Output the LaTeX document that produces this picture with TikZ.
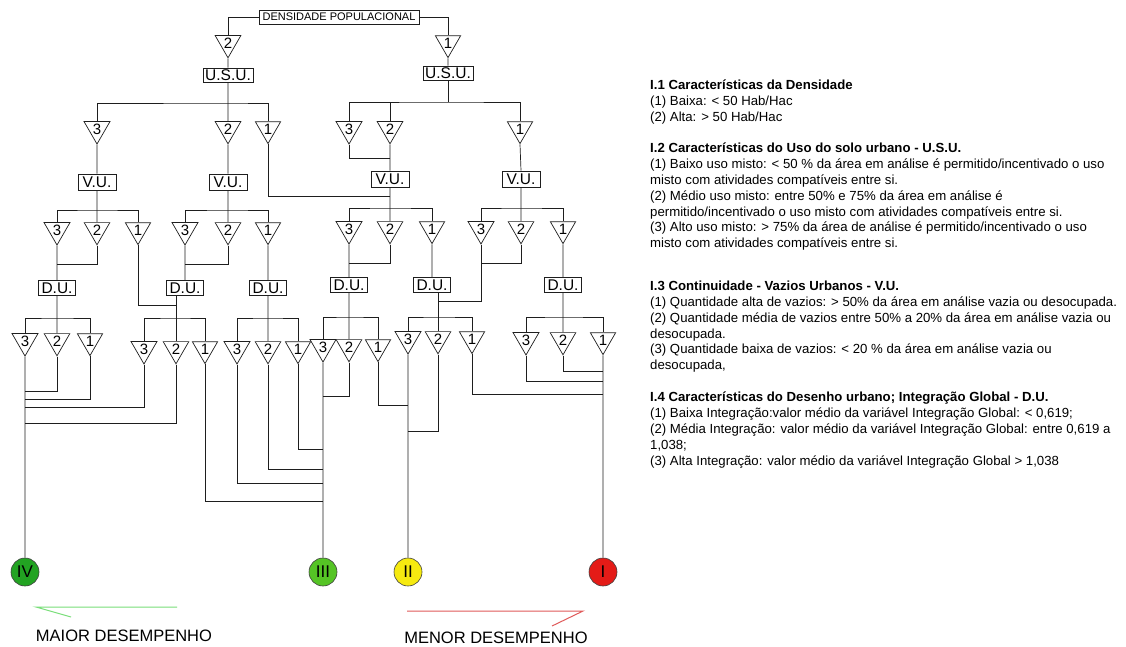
\documentclass[tikz,border=0pt]{standalone}
\usepackage{fontspec}
\setmainfont{Liberation Sans}
\usetikzlibrary{positioning,shapes.geometric}
\definecolor{cInk}{HTML}{1E1E1E}
\definecolor{cHigh}{HTML}{22A322}
\definecolor{cMid}{HTML}{55C425}
\definecolor{cYellow}{HTML}{F6EA10}
\definecolor{cRed}{HTML}{E41B17}
\definecolor{cGreenLine}{HTML}{79DE79}
\definecolor{cRedLine}{HTML}{E05A5A}

\begin{document}
\begin{tikzpicture}[x=1pt,y=-1pt,
    wire/.style={draw=cInk,line width=0.7pt},
    tri/.style={draw=cInk,line width=0.7pt,regular polygon,regular polygon sides=3,
                shape border rotate=180,minimum size=27.7pt,inner sep=0pt,
                font=\fontsize{15}{15}\selectfont},
    crit/.style={draw=cInk,line width=0.7pt,inner sep=0pt,minimum height=15pt,
                 font=\fontsize{15.5}{16}\selectfont},
    res/.style={circle,draw=black!75,line width=0.6pt,minimum size=28pt,inner sep=0pt,
                font=\fontsize{17}{17}\selectfont},
    note/.style={anchor=north west,align=left,inner sep=0pt,
                 font=\fontsize{13.2}{15.8}\selectfont}]
  \useasboundingbox[fill=white] (0,0) rectangle (1126,646);

  % criteria boxes
  \node[crit,minimum width=160pt,minimum height=14pt,font=\fontsize{11}{11}\selectfont]
    (dp) at (339,17) {DENSIDADE POPULACIONAL};
  \node[crit,minimum width=50pt,minimum height=14pt] (usuA) at (228,75) {U.S.U.};
  \node[crit,minimum width=50pt,minimum height=14pt] (usuB) at (448,73) {U.S.U.};
  \foreach \nm/\x/\y in {vuA/97/182, vuB/228/182, vuC/390/179, vuD/521/179}
    \node[crit,minimum width=38pt,minimum height=16pt] (\nm) at (\x,\y) {V.U.};
  \foreach \nm/\x/\y in {duA/57/288, duB/185/288, duC/268/288,
                         duD/349/285, duE/432/285, duF/563/285}
    \node[crit,minimum width=37pt] (\nm) at (\x,\y) {D.U.};

  % classes
  \node[tri] (d2) at (228,43) {2};
  \node[tri] (d1) at (448,43) {1};
  \foreach \nm/\x/\y/\t in {uA3/97/129/3, uA2/228/129/2, uA1/268/129/1,
                            uB3/349/129/3, uB2/390/129/2, uB1/520/129/1,
                            vA3/57/230/3, vA2/97/230/2, vA1/138/230/1,
                            vB3/185/230/3, vB2/228/230/2, vB1/268/230/1,
                            vC3/349/229/3, vC2/390/229/2, vC1/432/229/1,
                            vD3/481/229/3, vD2/521/229/2, vD1/563/229/1,
                            gA3/25/341/3, gA2/57/341/2, gA1/90/341/1,
                            gB3/144/349/3, gB2/176/349/2, gB1/205/349/1,
                            gC3/237/349/3, gC2/268/349/2, gC1/298/349/1,
                            gD3/323/347/3, gD2/349/347/2, gD1/378/347/1,
                            gE3/408/339/3, gE2/438/339/2, gE1/472/339/1,
                            gF3/526/340/3, gF2/563/340/2, gF1/603/340/1}
    \node[tri] (\nm) at (\x,\y) {\t};

  % performance levels
  \node[res,fill=cHigh] (rIV) at (25,572) {IV};
  \node[res,fill=cMid] (rIII) at (323,572) {III};
  \node[res,fill=cYellow] (rII) at (408,572) {II};
  \node[res,fill=cRed] (rI) at (603,572) {I};

  % junctions
  \foreach \c/\x/\y in {busUA/228/103, busUB/448/102, joinUB/390/158, feedVC/390/196,
                        busVA/97/210, busVB/228/210, busVC/390/208, busVD/521/208,
                        joinVA/57/264, joinVB/185/264, joinVC/349/263, joinVD/481/263,
                        feedDB/176/305, feedDE/438/301,
                        busDA/57/318, busDB/176/318, busDC/268/318,
                        busDD/349/317, busDE/438/317, busDF/563/317,
                        oA2/25/391, oA1/25/399, oB3/25/407, oB2/25/423,
                        oB1/323/501, oC3/323/483, oC2/323/469, oC1/323/449, oD2/323/396,
                        oD1/408/405, oE2/408/431,
                        oE1/603/394, oF3/603/381, oF2/603/371}
    \coordinate (\c) at (\x,\y);

  % density -> land use
  \draw[wire] (dp.west) -| (d2.north);
  \draw[wire] (dp.east) -| (d1.north);
  \draw[wire] (d2.south) -- (usuA.north);
  \draw[wire] (d1.south) -- (usuB.north);
  \draw[wire] (usuA.south) -- (uA2.north);
  \draw[wire] (uA3.north) |- (busUA) -| (uA1.north);
  \draw[wire] (usuB.south) -- (busUB);
  \draw[wire] (uB3.north) |- (busUB) -| (uB1.north);
  \draw[wire] (uB2.north) -- (uB2.north |- busUB);

  % land use -> voids
  \draw[wire] (uA3.south) -- (vuA.north);
  \draw[wire] (uA2.south) -- (vuB.north);
  \draw[wire] (uB2.south) -- (vuC.north);
  \draw[wire] (uB3.south) |- (joinUB);
  \draw[wire] (uB1.south) -- (vuD.north);
  \draw[wire] (uA1.south) |- (feedVC);
  \draw[wire] (vuA.south) -- (vA2.north);
  \draw[wire] (vA3.north) |- (busVA) -| (vA1.north);
  \draw[wire] (vuB.south) -- (vB2.north);
  \draw[wire] (vB3.north) |- (busVB) -| (vB1.north);
  \draw[wire] (vuC.south) -- (vC2.north);
  \draw[wire] (vC3.north) |- (busVC) -| (vC1.north);
  \draw[wire] (vuD.south) -- (vD2.north);
  \draw[wire] (vD3.north) |- (busVD) -| (vD1.north);

  % voids -> urban design
  \draw[wire] (vA3.south) -- (duA.north);
  \draw[wire] (vA2.south) |- (joinVA);
  \draw[wire] (vB3.south) -- (duB.north);
  \draw[wire] (vB2.south) |- (joinVB);
  \draw[wire] (vB1.south) -- (duC.north);
  \draw[wire] (vA1.south) |- (feedDB);
  \draw[wire] (vC3.south) -- (duD.north);
  \draw[wire] (vC2.south) |- (joinVC);
  \draw[wire] (vC1.south) -- (duE.north);
  \draw[wire] (vD3.south) |- (feedDE);
  \draw[wire] (vD2.south) |- (joinVD);
  \draw[wire] (vD1.south) -- (duF.north);
  \draw[wire] (duA.south) -- (gA2.north);
  \draw[wire] (gA3.north) |- (busDA) -| (gA1.north);
  \draw[wire] (duB.south -| gB2.north) -- (gB2.north);
  \draw[wire] (gB3.north) |- (busDB) -| (gB1.north);
  \draw[wire] (duC.south) -- (gC2.north);
  \draw[wire] (gC3.north) |- (busDC) -| (gC1.north);
  \draw[wire] (duD.south) -- (gD2.north);
  \draw[wire] (gD3.north) |- (busDD) -| (gD1.north);
  \draw[wire] (duE.south -| gE2.north) -- (gE2.north);
  \draw[wire] (gE3.north) |- (busDE) -| (gE1.north);
  \draw[wire] (duF.south) -- (gF2.north);
  \draw[wire] (gF3.north) |- (busDF) -| (gF1.north);

  % classes -> performance
  \draw[wire] (gA3.south) -- (rIV.north);
  \draw[wire] (gD3.south) -- (rIII.north);
  \draw[wire] (gE3.south) -- (rII.north);
  \draw[wire] (gF1.south) -- (rI.north);
  \foreach \g/\o in {gA2/oA2, gA1/oA1, gB3/oB3, gB2/oB2,
                     gB1/oB1, gC3/oC3, gC2/oC2, gC1/oC1, gD2/oD2,
                     gD1/oD1, gE2/oE2,
                     gE1/oE1, gF3/oF3, gF2/oF2}
    \draw[wire] (\g.south) |- (\o);

  % legend arrows
  \coordinate (gTail) at (177,607);
  \coordinate (gTip) at (36,607);
  \coordinate (gBarb) at (71,617);
  \coordinate (rTail) at (407,611);
  \coordinate (rTip) at (583,611);
  \coordinate (rBarb) at (552,626);
  \draw[cGreenLine,line width=1pt] (gTail) -- (gTip) -- (gBarb);
  \draw[cRedLine,line width=1pt] (rTail) -- (rTip) -- (rBarb);
  \node[font=\fontsize{16.5}{17}\selectfont] (maior) at (124,636) {MAIOR DESEMPENHO};
  \node[font=\fontsize{16.5}{17}\selectfont] (menor) at (496,638) {MENOR DESEMPENHO};

  % criteria notes
  \node[note] (noteDens) at (650,80)
    {\textbf{I.1 Características da Densidade}\\
     (1) Baixa: < 50 Hab/Hac\\
     (2) Alta: > 50 Hab/Hac};
  \node[note] (noteUso) at (650,143)
    {\textbf{I.2 Características do Uso do solo urbano - U.S.U.}\\
     (1) Baixo uso misto: < 50 \% da área em análise é permitido/incentivado o uso\\
     misto com atividades compatíveis entre si.\\
     (2) Médio uso misto: entre 50\% e 75\% da área em análise é\\
     permitido/incentivado o uso misto com atividades compatíveis entre si.\\
     (3) Alto uso misto: > 75\% da área de análise é permitido/incentivado o uso\\
     misto com atividades compatíveis entre si.};
  \node[note] (noteVaz) at (650,281)
    {\textbf{I.3 Continuidade - Vazios Urbanos - V.U.}\\
     (1) Quantidade alta de vazios: > 50\% da área em análise vazia ou desocupada.\\
     (2) Quantidade média de vazios entre 50\% a 20\% da área em análise vazia ou\\
     desocupada.\\
     (3) Quantidade baixa de vazios: < 20 \% da área em análise vazia ou\\
     desocupada,};
  \node[note] (noteDes) at (650,392)
    {\textbf{I.4 Características do Desenho urbano; Integração Global - D.U.}\\
     (1) Baixa Integração:valor médio da variável Integração Global: < 0,619;\\
     (2) Média Integração: valor médio da variável Integração Global: entre 0,619 a\\
     1,038;\\
     (3) Alta Integração: valor médio da variável Integração Global > 1,038};
\end{tikzpicture}
\end{document}
